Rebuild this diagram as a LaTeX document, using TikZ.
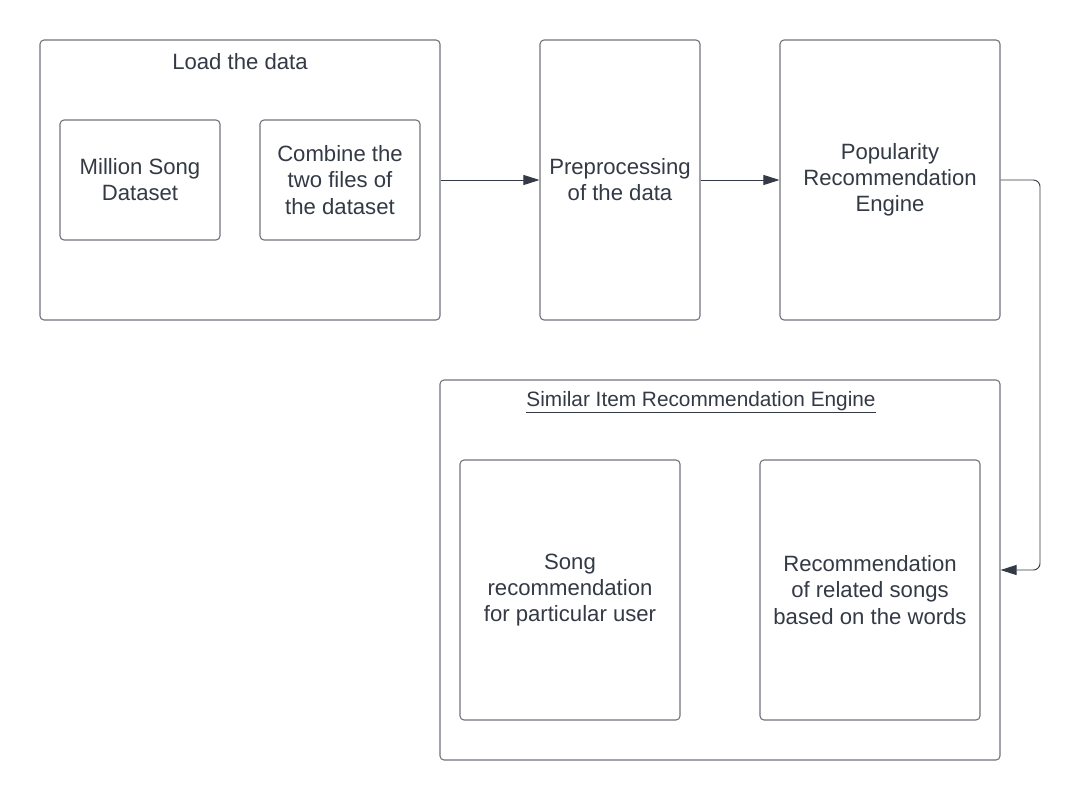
\documentclass[tikz,border=0pt]{standalone}
\usepackage{fontspec}
\setmainfont{Liberation Sans}
\usepackage{tikz}
\usetikzlibrary{arrows.meta}
\definecolor{inkgray}{HTML}{333A45}
\definecolor{edgegray}{HTML}{6F747C}

\tikzset{
    stage/.style={draw=edgegray, line width=0.8pt, rounded corners=3pt, fill=white},
    label/.style={text=inkgray, align=center, font=\fontsize{16.6}{19.6}\selectfont},
    grouptitle/.style={text=inkgray, align=center, font=\fontsize{15.6}{19.6}\selectfont},
    flow/.style={draw=inkgray, line width=0.7pt, -{Triangle[length=12pt, width=7.5pt]}}
}

\begin{document}
\begin{tikzpicture}[x=0.75pt, y=-0.75pt]
    \useasboundingbox (0,0) rectangle (1081,800);

    % loading group
    \node[stage, minimum width=300pt, minimum height=210pt] (load) at (240,180) {};
    \node[label] (loadtitle) at (240,62) {Load the data};
    \node[stage, label, minimum width=120pt, minimum height=90pt] (msd) at (140,180) {Million Song\\Dataset};
    \node[stage, label, minimum width=120pt, minimum height=90pt] (combine) at (340,180) {Combine the\\two files of\\the dataset};

    % main stages
    \node[stage, label, minimum width=120pt, minimum height=210pt] (preproc) at (620,180) {Preprocessing\\of the data};
    \node[stage, label, minimum width=165pt, minimum height=210pt] (popular) at (890,180) {Popularity\\Recommendation\\Engine};

    % similar item group
    \node[stage, minimum width=420pt, minimum height=285pt] (similar) at (720,570) {};
    \node[grouptitle] (simtitle) at (701,402) {\underline{Similar Item Recommendation Engine}};
    \node[stage, label, minimum width=165pt, minimum height=195pt] (songrec) at (570,590) {Song\\recommendation\\for particular user};
    \node[stage, label, minimum width=165pt, minimum height=195pt] (relrec) at (870,590) {Recommendation\\of related songs\\based on the words};

    \coordinate (turn) at (1040,180);

    \draw[flow] (load.east) -- (preproc.west);
    \draw[flow] (preproc.east) -- (popular.west);
    \draw[flow, rounded corners=5pt] (popular.east) -- (turn) |- (similar.east);

    %\draw[help lines] (0,0) grid[step=100] (1081,800);
\end{tikzpicture}
\end{document}
